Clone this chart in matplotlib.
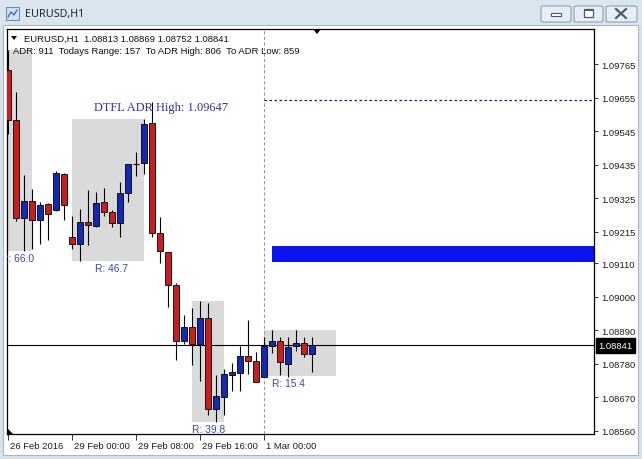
import matplotlib
matplotlib.use("Agg")
import matplotlib.pyplot as plt
from matplotlib.patches import Rectangle, FancyBboxPatch, Polygon
from matplotlib.lines import Line2D
from matplotlib.transforms import ScaledTranslation, offset_copy, blended_transform_factory

# ---------------- data ----------------
symbol = "EURUSD,H1"
opens = [1.09745, 1.09581, 1.09259, 1.09315, 1.09253, 1.09305, 1.09286, 1.09404,
         1.09197, 1.09174, 1.09246, 1.09233, 1.09312, 1.09279, 1.09243, 1.09341,
         1.09437, 1.09440, 1.09571, 1.09210, 1.09148, 1.09039, 1.08855, 1.08901,
         1.08846, 1.08931, 1.08632, 1.08672, 1.08744, 1.08750, 1.08806, 1.08790,
         1.08736, 1.08839, 1.08855, 1.08780, 1.08839, 1.08849, 1.08813]
highs = [1.09811, 1.09673, 1.09400, 1.09355, 1.09312, 1.09309, 1.09414, 1.09407,
         1.09266, 1.09289, 1.09351, 1.09345, 1.09358, 1.09286, 1.09378, 1.09437,
         1.09476, 1.09584, 1.09640, 1.09263, 1.09148, 1.09046, 1.08941, 1.08964,
         1.08988, 1.08980, 1.08744, 1.08764, 1.08783, 1.08839, 1.08924, 1.08819,
         1.08869, 1.08893, 1.08869, 1.08869, 1.08893, 1.08869, 1.08869]
lows = [1.09535, 1.09249, 1.09151, 1.09158, 1.09174, 1.09187, 1.09282, 1.09253,
        1.09158, 1.09118, 1.09171, 1.09230, 1.09266, 1.09230, 1.09197, 1.09312,
        1.09397, 1.09404, 1.09197, 1.09112, 1.08967, 1.08793, 1.08846, 1.08777,
        1.08724, 1.08613, 1.08590, 1.08613, 1.08691, 1.08691, 1.08747, 1.08721,
        1.08736, 1.08816, 1.08744, 1.08737, 1.08823, 1.08803, 1.08752]
closes = [1.09581, 1.09259, 1.09315, 1.09253, 1.09302, 1.09272, 1.09407, 1.09302,
          1.09174, 1.09246, 1.09236, 1.09309, 1.09279, 1.09243, 1.09341, 1.09437,
          1.09437, 1.09568, 1.09210, 1.09151, 1.09039, 1.08855, 1.08901, 1.08846,
          1.08931, 1.08632, 1.08675, 1.08747, 1.08754, 1.08806, 1.08790, 1.08721,
          1.08839, 1.08855, 1.08787, 1.08836, 1.08849, 1.08813, 1.08841]

time_ticks = [0, 8, 16, 24, 32]
time_labels = ["26 Feb 2016", "29 Feb 00:00", "29 Feb 08:00", "29 Feb 16:00", "1 Mar 00:00"]
price_ticks = [1.09765, 1.09655, 1.09545, 1.09435, 1.09325, 1.09215, 1.09110,
               1.09000, 1.08890, 1.08780, 1.08670, 1.08560]

box_start = [-8, 8, 23, 32]
box_end = [3, 17, 27, 41]
box_high = [1.09811, 1.09584, 1.08988, 1.08893]
box_low = [1.09151, 1.09117, 1.08590, 1.08739]
box_labels = ["R: 66.0", "R: 46.7", "R: 39.8", "R: 15.4"]
box_label_x = [-0.875, 10.875, 23, 33]

adr_high = 1.09647
adr_label = "DTFL ADR High: 1.09647"
zone_low, zone_high, zone_start = 1.09115, 1.09167, 33
day_start = 32
last_price = 1.08841
header1 = "EURUSD,H1  1.08813 1.08869 1.08752 1.08841"
header2 = "ADR: 911  Todays Range: 157  To ADR High: 806  To ADR Low: 859"

# ---------------- figure ----------------
W, H = 642, 460
plt.rcParams["font.family"] = ["Liberation Sans", "DejaVu Sans"]
fig = plt.figure(figsize=(W / 100, H / 100), dpi=100)
fig.patch.set_facecolor("#d8e2ec")

def fx(x):
    return x / W

def fy(y):
    return 1 - y / H

def rect_px(x0, y0, x1, y1, **kw):
    fig.add_artist(Rectangle((fx(x0), fy(y1)), (x1 - x0) / W, (y1 - y0) / H,
                             transform=fig.transFigure, **kw))

# window chrome
rect_px(0, 0, 642, 26, facecolor="#dbe5ef", edgecolor="none", zorder=0)
rect_px(3, 26, 638, 456, facecolor="white", edgecolor="#aab6c2", lw=0.8, zorder=0)
# icon
rect_px(6, 8, 19, 21, facecolor="#cfe0f0", edgecolor="#6b88a8", lw=0.7, zorder=1)
fig.add_artist(Line2D([fx(8), fx(11), fx(14), fx(17)], [fy(18), fy(13), fy(16), fy(11)],
                      transform=fig.transFigure, color="#2a5a8a", lw=0.8))
fig.text(fx(25), fy(15), symbol, fontsize=7.8, family=["Noto Sans", "DejaVu Sans"],
         color="#1c2a3a", va="center", ha="left")
# buttons
for (bx0, bx1) in [(541, 571), (574, 603), (606, 637)]:
    fig.add_artist(FancyBboxPatch((fx(bx0), fy(23)), (bx1 - bx0) / W, 16 / H,
                                  boxstyle="round,pad=0,rounding_size=0.004",
                                  transform=fig.transFigure, facecolor="#e8eef5",
                                  edgecolor="#8fa0b4", lw=0.8))
rect_px(551, 14, 561, 17, facecolor="white", edgecolor="#4a5868", lw=0.8)
rect_px(584, 10, 593, 18, facecolor="white", edgecolor="#4a5868", lw=0.9)
rect_px(584, 10, 593, 12, facecolor="#4a5868", edgecolor="none")
for xs, ys in [([616, 626], [10, 19]), ([626, 616], [10, 19])]:
    fig.add_artist(Line2D([fx(v) for v in xs], [fy(v) for v in ys],
                          transform=fig.transFigure, color="#4a5868", lw=1.5))

# ---------------- chart axes ----------------
ax = fig.add_axes([fx(7), fy(435), (594 - 7) / W, (435 - 30) / H])
ax.set_facecolor("white")
ax.set_xlim(-0.125, 73.25)
ax.set_ylim(1.08550, 1.09880)

# session boxes
for s, e, hi, lo, lab, lx in zip(box_start, box_end, box_high, box_low, box_labels, box_label_x):
    ax.add_patch(Rectangle((s, lo), e - s, hi - lo, facecolor="#dadada", edgecolor="none", zorder=0))
    ax.text(lx, lo, lab, transform=offset_copy(ax.transData, fig=fig, y=-2, units="dots"),
            fontsize=7.4, color="#3c46b4", va="top", ha="left", clip_on=True, zorder=5)

# blue zone
ax.add_patch(Rectangle((zone_start, zone_low), 80, zone_high - zone_low,
                       facecolor="#0a14f0", edgecolor="none", zorder=2))

# separator & lines
ax.axvline(day_start, color="#9a9a9a", lw=0.8, dashes=(3, 2), zorder=1)
ax.plot([day_start, 80], [adr_high, adr_high], color="#1a1a80", lw=0.9, dashes=(2, 2), zorder=2)
ax.axhline(last_price, color="black", lw=0.8, zorder=2)
ax.text(10.75, adr_high, adr_label, family=["Liberation Serif", "DejaVu Serif"], fontsize=8.9,
        color="#3030a8", va="center", ha="left", zorder=6,
        transform=offset_copy(ax.transData, fig=fig, y=-7, units="dots"))

# candles
bw = 0.64
for i, (o, h, l, c) in enumerate(zip(opens, highs, lows, closes)):
    ax.vlines(i, l, h, color="black", lw=0.8, zorder=3)
    if abs(c - o) < 1e-9:
        ax.hlines(o, i - bw / 2, i + bw / 2, color="black", lw=0.8, zorder=4)
    else:
        col = "#1428b4" if c > o else "#c81e1e"
        ax.bar(i, abs(c - o), bottom=min(o, c), width=bw, color=col,
               edgecolor="black", lw=0.6, zorder=4)

# axes styling
for sp in ax.spines.values():
    sp.set_color("black")
    sp.set_linewidth(0.9)
ax.yaxis.tick_right()
ax.set_yticks(price_ticks)
ax.set_yticklabels([f"{p:.5f}" for p in price_ticks])
ax.tick_params(axis="y", direction="out", length=3, width=0.7, pad=2,
               labelsize=6.8, labelcolor="#1e1e1e", color="#333333")
ax.set_xticks(time_ticks)
ax.set_xticklabels(time_labels, ha="left")
ax.tick_params(axis="x", direction="out", length=4, width=0.7, pad=1,
               labelsize=6.8, labelcolor="#1e1e1e", color="#333333")
for lbl in ax.get_xticklabels():
    lbl.set_transform(lbl.get_transform() + ScaledTranslation(0.015, 0, fig.dpi_scale_trans))

# current price tag
ax.text(1.0, last_price, f"{last_price:.5f}",
        transform=blended_transform_factory(ax.transAxes, ax.transData) + ScaledTranslation(0.045, 0, fig.dpi_scale_trans),
        fontsize=6.8, color="white", va="center", ha="left", clip_on=False, zorder=10,
        bbox=dict(boxstyle="square,pad=0.3", facecolor="black", edgecolor="black"))

# header text
fig.add_artist(Polygon([(fx(11), fy(37)), (fx(17), fy(37)), (fx(14), fy(41))],
                       closed=True, transform=fig.transFigure, facecolor="black", edgecolor="none", zorder=5))
fig.text(fx(24), fy(39), header1, fontsize=6.8, color="#111111", va="center", ha="left", zorder=5)
fig.text(fx(13), fy(52), header2, fontsize=6.8, color="#111111", va="center", ha="left", zorder=5)
# chart-shift and scroll markers
fig.add_artist(Polygon([(fx(313), fy(30)), (fx(321), fy(30)), (fx(317), fy(35))],
                       closed=True, transform=fig.transFigure, facecolor="black", edgecolor="none", zorder=5))
fig.add_artist(Polygon([(fx(7), fy(429)), (fx(7), fy(435)), (fx(13), fy(435))],
                       closed=True, transform=fig.transFigure, facecolor="black", edgecolor="none", zorder=5))

fig.savefig("out.png", dpi=100, facecolor=fig.get_facecolor())
